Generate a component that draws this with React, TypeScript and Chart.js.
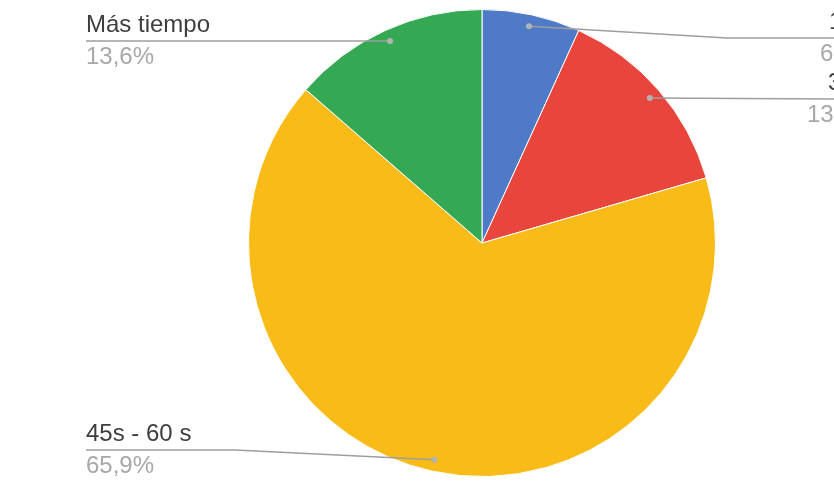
import React, { useEffect, useRef } from "react";
import { Chart, registerables } from "chart.js";

Chart.register(...registerables);

const categories = ["15s - 30 s", "30s - 45 s", "45s - 60 s", "Más tiempo"];
const values = [6.8, 13.7, 65.9, 13.6];
const colors = ["#4e7ac7", "#e8453c", "#f8bb17", "#34a853"];

const fmt = (v: number) => v.toFixed(1).replace(".", ",") + "%";

// callout layout per slice (label placement)
const callouts = [
  { side: "right", lineY: 38, bendX: 727, textX: 829, pctX: 820 },
  { side: "right", lineY: 99, bendX: null, textX: 828, pctX: 807 },
  { side: "left", lineY: 450, bendX: 235, textX: 86, pctX: 86 },
  { side: "left", lineY: null, bendX: null, textX: 86, pctX: 86 },
];

const calloutPlugin = {
  id: "callouts",
  afterDatasetsDraw(chart: any) {
    const ctx = chart.ctx as CanvasRenderingContext2D;
    const meta = chart.getDatasetMeta(0);
    const W = chart.width;
    meta.data.forEach((arc: any, i: number) => {
      const p = arc.getProps(["x", "y", "startAngle", "endAngle", "outerRadius"], true);
      const mid = (p.startAngle + p.endAngle) / 2;
      const dx = p.x + Math.cos(mid) * p.outerRadius * 0.95;
      const dy = p.y + Math.sin(mid) * p.outerRadius * 0.95;
      const c = callouts[i];
      const ly = c.lineY == null ? dy : c.lineY;
      ctx.save();
      ctx.strokeStyle = "#9e9e9e";
      ctx.lineWidth = 1.5;
      ctx.beginPath();
      if (c.side === "left") {
        ctx.moveTo(c.textX, ly);
        if (c.bendX != null) ctx.lineTo(c.bendX, ly);
        ctx.lineTo(dx, dy);
      } else {
        ctx.moveTo(dx, dy);
        if (c.bendX != null) ctx.lineTo(c.bendX, ly);
        ctx.lineTo(W + 10, ly);
      }
      ctx.stroke();
      ctx.fillStyle = "#b3b3b3";
      ctx.beginPath();
      ctx.arc(dx, dy, 3, 0, Math.PI * 2);
      ctx.fill();
      ctx.font = "24px 'Liberation Sans', Arial, sans-serif";
      ctx.textAlign = "left";
      ctx.textBaseline = "alphabetic";
      ctx.fillStyle = "#3e3e3e";
      ctx.fillText(categories[i], c.textX, ly - 9);
      ctx.fillStyle = "#a8a8a8";
      ctx.fillText(fmt(values[i]), c.pctX, ly + 23);
      ctx.restore();
    });
  },
};

export default function App() {
  const ref = useRef<HTMLCanvasElement>(null);
  useEffect(() => {
    document.body.style.margin = "0";
    const chart = new Chart(ref.current!, {
      type: "pie",
      data: {
        labels: categories,
        datasets: [
          {
            data: values,
            backgroundColor: colors,
            borderColor: "#ffffff",
            borderWidth: 1,
          },
        ],
      },
      options: {
        responsive: false,
        animation: false,
        devicePixelRatio: 1,
        layout: { padding: { left: 130, right: 0, top: 9, bottom: 18 } },
        plugins: {
          legend: { display: false },
          tooltip: { enabled: false },
        },
      },
      plugins: [calloutPlugin],
    });
    return () => chart.destroy();
  }, []);
  return (
    <div style={{ width: 834, height: 495, background: "#fff" }}>
      <canvas ref={ref} width={834} height={495} />
    </div>
  );
}
